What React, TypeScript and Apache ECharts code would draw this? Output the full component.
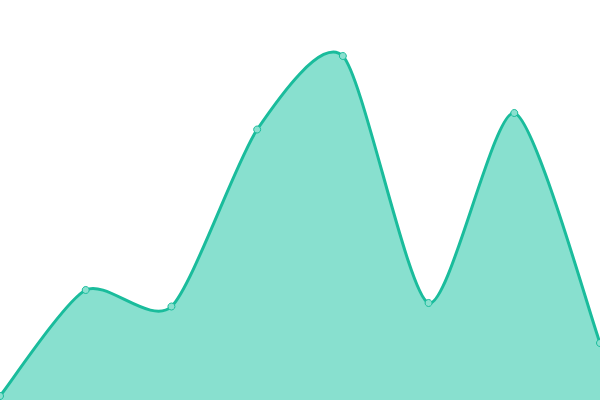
import React, { useEffect, useRef } from "react";
import * as echarts from "echarts";

const categories = ["A", "B", "C", "D", "E", "F", "G", "H"];
const values = [4, 110, 93.5, 270.5, 344, 97, 287, 57];
const yMin = 0;
const yMax = 400;

const TENSION = 0.12;

function buildPaths(pts: number[][], baseY: number) {
  const n = pts.length;
  let d = `M${pts[0][0]},${pts[0][1]}`;
  for (let i = 0; i < n - 1; i++) {
    const p0 = pts[Math.max(0, i - 1)];
    const p1 = pts[i];
    const p2 = pts[i + 1];
    const p3 = pts[Math.min(n - 1, i + 2)];
    const c1x = p1[0] + (p2[0] - p0[0]) * TENSION;
    const c1y = p1[1] + (p2[1] - p0[1]) * TENSION;
    const c2x = p2[0] - (p3[0] - p1[0]) * TENSION;
    const c2y = p2[1] - (p3[1] - p1[1]) * TENSION;
    d += ` C${c1x},${c1y} ${c2x},${c2y} ${p2[0]},${p2[1]}`;
  }
  const area = d + ` L${pts[n - 1][0]},${baseY} L${pts[0][0]},${baseY} Z`;
  return { line: d, area };
}

export default function App() {
  const ref = useRef<HTMLDivElement>(null);
  useEffect(() => {
    document.body.style.margin = "0";
    const chart = echarts.init(ref.current!, null, { renderer: "svg" });
    chart.setOption({
      animation: false,
      grid: { left: 0, right: 0, top: 0, bottom: 0 },
      xAxis: { type: "category", data: categories, boundaryGap: false, show: false },
      yAxis: { type: "value", min: yMin, max: yMax, show: false },
      series: [
        {
          type: "custom",
          data: values.map((v, i) => [i, v]),
          clip: false,
          z: 1,
          renderItem: (params: any, api: any) => {
            if (params.dataIndex !== 0) return null;
            const pts = values.map((v, i) => api.coord([i, v]));
            const baseY = api.coord([0, yMin])[1];
            const { line, area } = buildPaths(pts, baseY);
            return {
              type: "group",
              children: [
                {
                  type: "path",
                  shape: { pathData: area },
                  style: { fill: "#88e0cf", stroke: "none" },
                },
                {
                  type: "path",
                  shape: { pathData: line },
                  style: { fill: "none", stroke: "#1abc9c", lineWidth: 3 },
                },
              ],
            };
          },
        },
        {
          type: "line",
          data: values,
          z: 3,
          symbol: "circle",
          symbolSize: 7,
          showSymbol: true,
          lineStyle: { opacity: 0 },
          itemStyle: { color: "#8ae0cf", borderColor: "#1abc9c", borderWidth: 1 },
        },
      ],
    });
    return () => chart.dispose();
  }, []);
  return <div ref={ref} style={{ width: 600, height: 400 }} />;
}
